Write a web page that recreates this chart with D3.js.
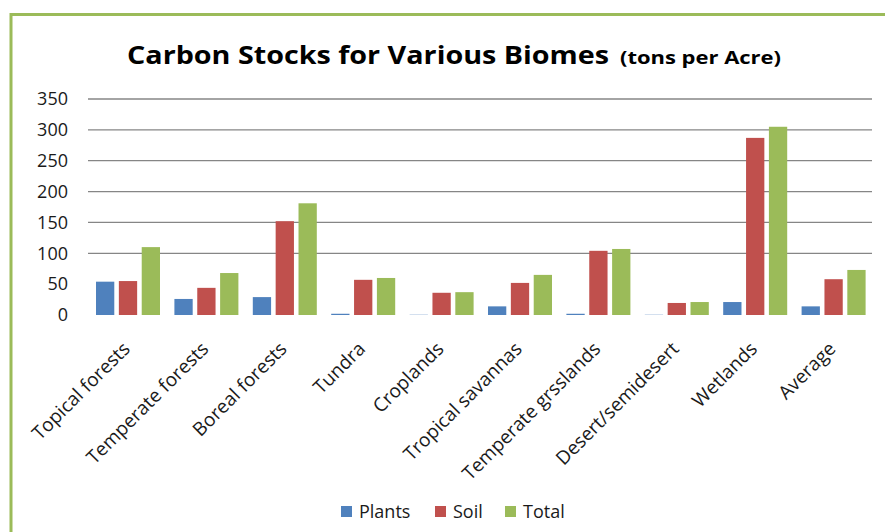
<!DOCTYPE html>
<html>
<head>
<meta charset="utf-8">
<script src="https://cdn.jsdelivr.net/npm/d3@7/dist/d3.min.js"></script>
<style>
  body { margin: 0; background: #fff; }
  svg { display: block; }
</style>
</head>
<body>
<svg width="885" height="532"></svg>
<script>
var biomes = ["Topical forests", "Temperate forests", "Boreal forests", "Tundra", "Croplands",
              "Tropical savannas", "Temperate grsslands", "Desert/semidesert", "Wetlands", "Average"];
var series = ["Plants", "Soil", "Total"];
var plants = [54, 26, 29, 2, 0.4, 14, 2, 0.4, 21, 14];
var soil   = [55, 44, 152, 57, 36, 52, 104, 19.5, 287, 58];
var total  = [110, 68, 181, 60, 37, 65, 107, 21, 305, 73];
var yTicks = [0, 50, 100, 150, 200, 250, 300, 350];
var colors = ["#4F81BD", "#C0504D", "#9BBB59"];

var values = [plants, soil, total];
var rows = biomes.map((b, i) => ({name: b, vals: series.map((s, k) => ({key: s, v: values[k][i]}))}));

let svg = d3.select("svg");

// frame
svg.append("rect")
    .attr("x", 11).attr("y", 14.5)
    .attr("width", 900).attr("height", 560)
    .attr("fill", "none")
    .attr("stroke", "#9BBB59")
    .attr("stroke-width", 3);

// title (two pieces, sized to the original widths)
svg.append("text")
    .attr("x", 127).attr("y", 64)
    .attr("textLength", 482).attr("lengthAdjust", "spacingAndGlyphs")
    .style("font-family", "'Open Sans', sans-serif")
    .style("font-weight", "bold")
    .style("font-size", "25px")
    .attr("fill", "#000")
    .text("Carbon Stocks for Various Biomes");
svg.append("text")
    .attr("x", 620).attr("y", 64)
    .attr("textLength", 161).attr("lengthAdjust", "spacingAndGlyphs")
    .style("font-family", "'Open Sans', sans-serif")
    .style("font-weight", "bold")
    .style("font-size", "17px")
    .attr("fill", "#000")
    .text("(tons per Acre)");

let x0 = d3.scaleBand().domain(biomes).range([88, 872]);
let x1 = d3.scaleBand().domain(series).range([8, 72]).paddingInner(0.2);
let y = d3.scaleLinear().domain([0, 350]).range([315, 99]);

// gridlines
svg.append("g")
    .selectAll("line")
    .data(yTicks.filter(t => t >= 100))
    .enter().append("line")
    .attr("x1", 88).attr("x2", 872)
    .attr("y1", d => y(d)).attr("y2", d => y(d))
    .attr("stroke", "#868686")
    .attr("stroke-width", 1.3);

// y axis labels
let yAxis = svg.append("g")
    .attr("transform", "translate(88,0)")
    .call(d3.axisLeft(y).tickValues(yTicks).tickSize(0).tickPadding(20));
yAxis.select(".domain").remove();
yAxis.selectAll("text")
    .style("font-family", "'Open Sans', sans-serif")
    .style("font-size", "18px")
    .attr("fill", "#1a1a1a");

// bars
let groups = svg.append("g")
    .selectAll("g")
    .data(rows)
    .enter().append("g")
    .attr("transform", d => "translate(" + x0(d.name) + ",0)");

groups.selectAll("rect")
    .data(d => d.vals)
    .enter().append("rect")
    .attr("x", d => x1(d.key))
    .attr("width", x1.bandwidth())
    .attr("y", d => y(d.v))
    .attr("height", d => y(0) - y(d.v))
    .attr("fill", (d, i) => colors[i]);

// x labels
svg.append("g")
    .selectAll("text")
    .data(biomes)
    .enter().append("text")
    .attr("transform", d => "translate(" + (x0(d) + x0.bandwidth() / 2 + 4) + ",350) rotate(-45)")
    .attr("text-anchor", "end")
    .style("font-family", "'Open Sans', sans-serif")
    .style("font-size", "19px")
    .attr("fill", "#1a1a1a")
    .text(d => d);

// legend
let legend = svg.append("g")
    .selectAll("g")
    .data(series)
    .enter().append("g")
    .attr("transform", (d, i) => "translate(" + [341, 435, 505][i] + ",506)");
legend.append("rect")
    .attr("width", 11).attr("height", 11)
    .attr("fill", (d, i) => colors[i]);
legend.append("text")
    .attr("x", 18).attr("y", 12)
    .style("font-family", "'Open Sans', sans-serif")
    .style("font-size", "18px")
    .attr("fill", "#1a1a1a")
    .text(d => d);
</script>
</body>
</html>
